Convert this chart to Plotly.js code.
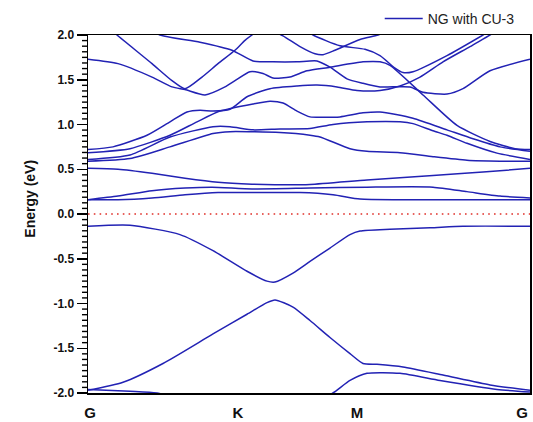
<!DOCTYPE html>
<html>
<head>
<meta charset="utf-8">
<script src="https://cdn.plot.ly/plotly-3.0.1.min.js"></script>
<style>html,body{margin:0;padding:0;background:#fff;}#chart{width:533px;height:422px;}</style>
</head>
<body>
<div id="chart"></div>
<script>
// k-path positions (arbitrary units) and energies (eV)
const pathLabels = ['G', 'K', 'M', 'G'];
const pathTicks = [2, 150, 269, 434];
const energyTicks = [-2, -1.5, -1, -0.5, 0, 0.5, 1, 1.5, 2];
const energyTickText = ['-2.0', '-1.5', '-1.0', '-0.5', '0.0', '0.5', '1.0', '1.5', '2.0'];

const vb1K = [0, 42, 92, 125, 159, 179, 187, 205, 222, 242, 262, 272, 302, 342, 375, 442];
const vb1E = [-0.137, -0.126, -0.23, -0.41, -0.64, -0.75, -0.76, -0.66, -0.53, -0.38, -0.23, -0.19, -0.17, -0.155, -0.137, -0.137];
const vb2K = [0, 35, 75, 125, 159, 179, 187, 205, 222, 242, 262, 275, 289, 315, 355, 402, 442];
const vb2E = [-1.97, -1.88, -1.67, -1.34, -1.12, -0.99, -0.96, -1.04, -1.19, -1.38, -1.56, -1.67, -1.68, -1.71, -1.80, -1.91, -1.97];
const vb3K = [0, 42, 69, 120, 187, 230, 245, 262, 279, 312, 352, 409, 442];
const vb3E = [-1.96, -1.98, -2.0, -2.15, -2.25, -2.08, -2.0, -1.86, -1.78, -1.78, -1.86, -1.96, -1.99];

const cbAK = [0, 30, 64, 97, 124, 164, 222, 279, 345, 379, 412, 442];
const cbAE = [0.16, 0.20, 0.26, 0.29, 0.30, 0.28, 0.29, 0.30, 0.30, 0.25, 0.20, 0.18];
const cbBK = [0, 30, 64, 97, 130, 164, 212, 245, 272, 312, 379, 442];
const cbBE = [0.16, 0.16, 0.18, 0.215, 0.24, 0.24, 0.24, 0.215, 0.167, 0.16, 0.16, 0.16];
const cbCK = [0, 30, 64, 97, 130, 164, 187, 222, 279, 345, 395, 442];
const cbCE = [0.51, 0.50, 0.455, 0.40, 0.355, 0.333, 0.327, 0.33, 0.38, 0.43, 0.47, 0.51];

const u1K = [0, 42, 82, 125, 142, 192, 222, 232, 262, 279, 312, 345, 379, 412, 442];
const u1E = [0.59, 0.62, 0.75, 0.90, 0.92, 0.91, 0.88, 0.86, 0.73, 0.70, 0.685, 0.64, 0.60, 0.59, 0.59];
const u2K = [0, 42, 82, 125, 142, 165, 192, 222, 245, 279, 312, 325, 345, 359, 379, 409, 442];
const u2E = [0.61, 0.66, 0.86, 0.975, 0.975, 0.94, 0.95, 0.955, 1.00, 1.03, 1.03, 1.01, 0.93, 0.88, 0.79, 0.68, 0.61];
const u3K = [0, 42, 82, 109, 132, 165, 182, 195, 209, 222, 235, 252, 275, 292, 325, 359, 385, 412, 442];
const u3E = [0.685, 0.73, 0.88, 1.03, 1.15, 1.23, 1.26, 1.24, 1.15, 1.085, 1.08, 1.085, 1.13, 1.14, 1.07, 0.94, 0.84, 0.75, 0.70];
const u4K = [0, 25, 59, 82, 99, 112, 125, 142, 159, 182, 209, 229, 249, 269, 292, 312, 332, 355, 382, 402, 412];
const u4E = [0.72, 0.75, 0.88, 1.03, 1.14, 1.16, 1.15, 1.17, 1.31, 1.40, 1.43, 1.44, 1.42, 1.38, 1.38, 1.43, 1.53, 1.70, 1.87, 2.0, 2.06];
const u5K = [0, 30, 64, 84, 97, 117, 137, 147, 162, 175, 185, 202, 219, 242, 275, 292, 302, 335, 369, 402, 427, 442];
const u5E = [1.73, 1.68, 1.53, 1.42, 1.39, 1.33, 1.42, 1.49, 1.59, 1.57, 1.52, 1.53, 1.60, 1.64, 1.70, 1.70, 1.66, 1.33, 0.99, 0.81, 0.73, 0.72];
const u6K = [22, 29, 64, 84, 97, 114, 130, 147, 157, 164, 172];
const u6E = [2.07, 2.0, 1.68, 1.49, 1.40, 1.53, 1.68, 1.83, 1.94, 2.0, 2.06];
const u7K = [62, 72, 112, 144, 165, 185, 209, 229, 242, 259, 275, 292, 322, 335, 359, 375, 402, 442];
const u7E = [2.07, 2.0, 1.92, 1.83, 1.71, 1.70, 1.70, 1.71, 1.64, 1.51, 1.46, 1.42, 1.42, 1.36, 1.34, 1.40, 1.60, 1.73];
const u8K = [184, 195, 212, 227, 235, 247, 272, 290, 298];
const u8E = [2.05, 1.99, 1.87, 1.79, 1.78, 1.83, 1.95, 2.0, 2.04];
const u9K = [217, 225, 252, 277, 292, 307, 315, 325, 359, 395, 404];
const u9E = [2.06, 2.0, 1.88, 1.84, 1.77, 1.63, 1.58, 1.59, 1.77, 2.0, 2.06];

const fermiK = [0, 442];
const fermiE = [0, 0];

// minor tick marks on the energy axis (7 per 0.5 eV), drawn as short segments outside the axis line
const minorTickVals = [];
for (let i = 0; i <= 64; i++) { if (i % 8 !== 0) minorTickVals.push(-2 + i * 0.0625); }
const minorTickShapes = minorTickVals.map(function (v) {
  return {type: 'line', xref: 'paper', yref: 'y', x0: -6 / 442, x1: -0.5 / 442, y0: v, y1: v,
          line: {color: '#000', width: 1.4}, layer: 'above'};
});

const bandColor = '#2222b4';
const bands = [
  [vb1K, vb1E], [vb2K, vb2E], [vb3K, vb3E],
  [cbAK, cbAE], [cbBK, cbBE], [cbCK, cbCE],
  [u1K, u1E], [u2K, u2E], [u3K, u3E], [u4K, u4E], [u5K, u5E],
  [u6K, u6E], [u7K, u7E], [u8K, u8E], [u9K, u9E]
];

const traces = [{
  x: fermiK, y: fermiE, mode: 'lines', showlegend: false, hoverinfo: 'skip',
  line: {color: '#e0302a', width: 1.6, dash: '1.6px,4.2px'}
}];
bands.forEach(function (b, i) {
  traces.push({
    x: b[0], y: b[1], mode: 'lines',
    name: 'NG with CU-3', showlegend: i === 0,
    line: {color: bandColor, width: 1.5, shape: 'spline', smoothing: 0.6}
  });
});

const layout = {
  width: 533, height: 422,
  margin: {l: 88, r: 3, t: 32, b: 29},
  paper_bgcolor: '#ffffff', plot_bgcolor: '#ffffff',
  font: {family: 'Arial, "Liberation Sans", sans-serif', color: '#000'},
  showlegend: true,
  legend: {
    x: 0.66, xanchor: 'left', y: 1.0, yanchor: 'bottom',
    font: {size: 14, color: '#222'}, bgcolor: 'rgba(0,0,0,0)',
    itemwidth: 38, tracegroupgap: 0
  },
  xaxis: {
    range: [0, 442], tickmode: 'array', tickvals: pathTicks, ticktext: pathLabels,
    ticks: '', showgrid: false, zeroline: false,
    showline: true, linecolor: '#000', linewidth: 1.5, mirror: true,
    tickfont: {size: 15, weight: 'bold', color: '#111'}, ticklabelstandoff: 5
  },
  yaxis: {
    range: [-2, 2], tickmode: 'array', tickvals: energyTicks, ticktext: energyTickText,
    ticks: 'outside', ticklen: 10, tickwidth: 1.5, tickcolor: '#000',
    showgrid: false, zeroline: false,
    showline: true, linecolor: '#000', linewidth: 1.5, mirror: true,
    tickfont: {size: 12, weight: 'bold', color: '#111'}
  },
  shapes: minorTickShapes,
  annotations: [{
    text: 'Energy (eV)', textangle: -90, showarrow: false,
    xref: 'paper', yref: 'paper', x: -0.131, y: 0.543,
    xanchor: 'center', yanchor: 'middle',
    font: {size: 14, weight: 'bold', color: '#111'}
  }]
};

Plotly.newPlot('chart', traces, layout, {displayModeBar: false, staticPlot: true});
</script>
</body>
</html>
